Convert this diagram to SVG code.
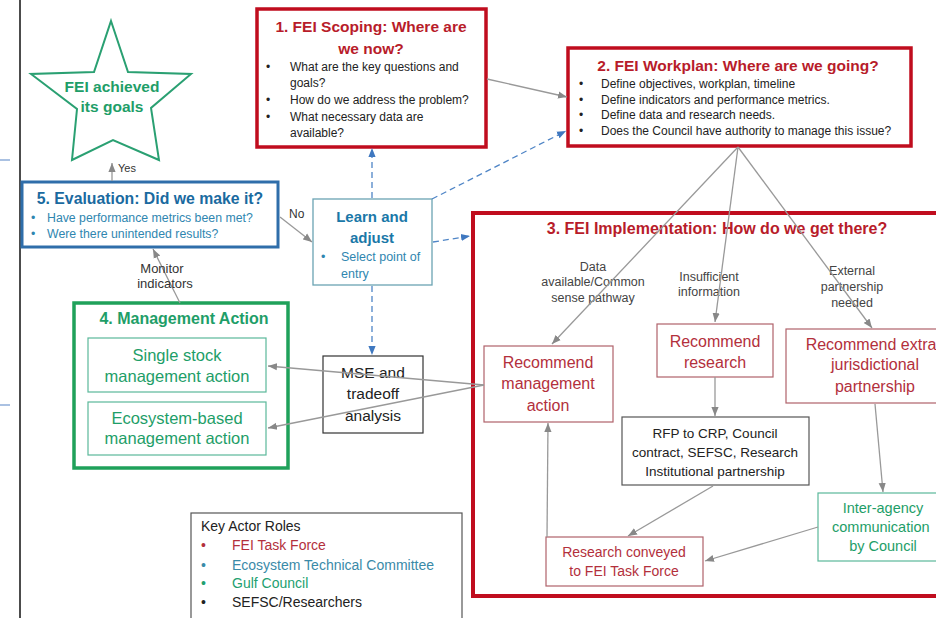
<svg xmlns="http://www.w3.org/2000/svg" width="936" height="618" viewBox="0 0 936 618">
<defs>
<marker id="ag" viewBox="0 0 10 10" refX="10" refY="5" markerWidth="9" markerHeight="9" markerUnits="userSpaceOnUse" orient="auto"><path d="M0,1 L10,5 L0,9 z" fill="#888"/></marker>
<marker id="ab" viewBox="0 0 10 10" refX="10" refY="5" markerWidth="9" markerHeight="9" markerUnits="userSpaceOnUse" orient="auto"><path d="M0,1 L10,5 L0,9 z" fill="#3f78c0"/></marker>
<style>
text{font-family:"Liberation Sans",Arial,sans-serif;}
.b{font-weight:bold;}
.m{text-anchor:middle;}
.redF{fill:none;stroke:#c00d1e;stroke-width:3.5;}
.redT{fill:#b81c2a;}
.recB{fill:#fff;stroke:#b0626a;stroke-width:1.2;}
.recT{fill:#b3303c;}
.blk{fill:#222;}
.lbl{fill:#444;font-size:12.5px;}
.blueT{fill:#1a6aa0;}
.blueS{fill:#2f86b0;}
.grnT{fill:#1e9e68;}
.grnB{fill:#fff;stroke:#5ab89a;stroke-width:1.2;}
.ga{fill:none;stroke:#999;stroke-width:1.3;marker-end:url(#ag);}
.ba{fill:none;stroke:#4f85c6;stroke-width:1.3;stroke-dasharray:6 4;marker-end:url(#ab);}
</style>
</defs>
<rect width="936" height="618" fill="#fff"/>
<g id="page-edge">
<line x1="20" y1="0" x2="20" y2="618" stroke="#111" stroke-width="1.5"/>
<line x1="0" y1="160" x2="10" y2="160" stroke="#8eacd8" stroke-width="1.5"/>
<line x1="0" y1="405" x2="10" y2="405" stroke="#8eacd8" stroke-width="1.5"/>
</g>
<g id="star">
<polygon points="111,21 128,72 191,74 151,108 159,160 113,140 72,160 77,109 31,74 94,72" fill="#fff" stroke="#2aa072" stroke-width="2"/>
<text x="112" y="92" class="b m grnT" font-size="15.5">FEI achieved</text>
<text x="112" y="112" class="b m grnT" font-size="15.5">its goals</text>
</g>
<g id="scoping">
<rect x="257" y="9" width="229" height="138" class="redF" fill="#fff"/>
<text x="371" y="32" class="b m redT" font-size="15.5">1. FEI Scoping: Where are</text>
<text x="371" y="54" class="b m redT" font-size="15.5">we now?</text>
<g class="blk" font-size="12">
<text x="266" y="71">•</text><text x="290" y="71">What are the key questions and</text>
<text x="290" y="87">goals?</text>
<text x="266" y="104">•</text><text x="290" y="104">How do we address the problem?</text>
<text x="266" y="121">•</text><text x="290" y="121">What necessary data are</text>
<text x="290" y="137">available?</text>
</g>
</g>
<g id="workplan">
<rect x="568" y="48" width="343" height="98" class="redF" fill="#fff"/>
<text x="738" y="71" class="b m redT" font-size="15.5">2. FEI Workplan: Where are we going?</text>
<g class="blk" font-size="12">
<text x="579" y="88">•</text><text x="601" y="88">Define objectives, workplan, timeline</text>
<text x="579" y="104">•</text><text x="601" y="104">Define indicators and performance metrics.</text>
<text x="579" y="119">•</text><text x="601" y="119">Define data and research needs.</text>
<text x="579" y="135">•</text><text x="601" y="135">Does the Council have authority to manage this issue?</text>
</g>
</g>
<g id="evaluation">
<rect x="22" y="182" width="256" height="65" fill="#fff" stroke="#2f6eaa" stroke-width="3"/>
<text x="150" y="204" class="b m blueT" font-size="15.8">5. Evaluation: Did we make it?</text>
<g class="blueS" font-size="12.3">
<text x="31" y="222">•</text><text x="47" y="222">Have performance metrics been met?</text>
<text x="31" y="238">•</text><text x="47" y="238">Were there unintended results?</text>
</g>
</g>
<g id="learn">
<rect x="313" y="199" width="119" height="86" fill="#fff" stroke="#6aa3b3" stroke-width="1.3"/>
<text x="372" y="222" class="b m" fill="#1a78a8" font-size="15">Learn and</text>
<text x="372" y="243" class="b m" fill="#1a78a8" font-size="15">adjust</text>
<text x="321" y="261" class="blueS" font-size="12.5">•</text>
<text x="341" y="261" class="blueS" font-size="12.5">Select point of</text>
<text x="341" y="278" class="blueS" font-size="12.5">entry</text>
</g>
<g id="management">
<rect x="74" y="303" width="214" height="165" fill="#fff" stroke="#1fa15a" stroke-width="3.5"/>
<text x="184" y="324" class="b m grnT" font-size="16">4. Management Action</text>
<g id="single-stock">
<rect x="88" y="338" width="178" height="54" class="grnB"/>
<text x="177" y="361" class="m grnT" font-size="16.5">Single stock</text>
<text x="177" y="382" class="m grnT" font-size="16.5">management action</text>
</g>
<g id="ecosystem">
<rect x="88" y="402" width="178" height="53" class="grnB"/>
<text x="177" y="424" class="m grnT" font-size="16.5">Ecosystem-based</text>
<text x="177" y="444" class="m grnT" font-size="16.5">management action</text>
</g>
</g>
<g id="mse">
<rect x="323" y="356" width="100" height="77" fill="#fff" stroke="#333" stroke-width="1.2"/>
<text x="373" y="378" class="m blk" font-size="15.5">MSE and</text>
<text x="373" y="399" class="m blk" font-size="15.5">tradeoff</text>
<text x="373" y="421" class="m blk" font-size="15.5">analysis</text>
</g>
<g id="implementation">
<rect x="473" y="213" width="490" height="383" fill="none" stroke="#c00d1e" stroke-width="4"/>
<text x="717" y="234" class="b m redT" font-size="16">3. FEI Implementation: How do we get there?</text>
<text x="593" y="271" class="m lbl">Data</text>
<text x="593" y="286" class="m lbl">available/Common</text>
<text x="593" y="302" class="m lbl">sense pathway</text>
<text x="709" y="281" class="m lbl">Insufficient</text>
<text x="709" y="296" class="m lbl">information</text>
<text x="852" y="275" class="m lbl">External</text>
<text x="852" y="291" class="m lbl">partnership</text>
<text x="852" y="307" class="m lbl">needed</text>
</g>
<g id="rec-management">
<rect x="484" y="346" width="129" height="76" class="recB"/>
<text x="548" y="368" class="m recT" font-size="16">Recommend</text>
<text x="548" y="389" class="m recT" font-size="16">management</text>
<text x="548" y="411" class="m recT" font-size="16">action</text>
</g>
<g id="rec-research">
<rect x="657" y="324" width="116" height="53" class="recB"/>
<text x="715" y="347" class="m recT" font-size="16">Recommend</text>
<text x="715" y="368" class="m recT" font-size="16">research</text>
</g>
<g id="rec-extra">
<rect x="786" y="329" width="180" height="74" class="recB"/>
<text x="871" y="350" class="m recT" font-size="16">Recommend extra</text>
<text x="875" y="370" class="m recT" font-size="16">jurisdictional</text>
<text x="875" y="392" class="m recT" font-size="16">partnership</text>
</g>
<g id="rfp">
<rect x="622" y="417" width="187" height="68" fill="#fff" stroke="#555" stroke-width="1.2"/>
<text x="715" y="438" class="m blk" font-size="13.5">RFP to CRP, Council</text>
<text x="715" y="457" class="m blk" font-size="13.5">contract, SEFSC, Research</text>
<text x="715" y="476" class="m blk" font-size="13.5">Institutional partnership</text>
</g>
<g id="inter-agency">
<rect x="818" y="493" width="140" height="68" class="grnB"/>
<text x="883" y="513" class="m grnT" font-size="14.5">Inter-agency</text>
<text x="832" y="532" class="grnT" font-size="14.5">communication</text>
<text x="883" y="551" class="m grnT" font-size="14.5">by Council</text>
</g>
<g id="research-conveyed">
<rect x="546" y="537" width="157" height="49" class="recB"/>
<text x="624" y="557" class="m recT" font-size="14">Research conveyed</text>
<text x="624" y="576" class="m recT" font-size="14">to FEI Task Force</text>
</g>
<g id="key-actors">
<rect x="191" y="513" width="271" height="120" fill="#fff" stroke="#555" stroke-width="1.2"/>
<text x="201" y="531" class="blk" font-size="14">Key Actor Roles</text>
<text x="201" y="550" fill="#b3303c" font-size="14">•</text><text x="232" y="550" fill="#b3303c" font-size="14">FEI Task Force</text>
<text x="201" y="570" fill="#3a8aa8" font-size="14">•</text><text x="232" y="570" fill="#3a8aa8" font-size="14">Ecosystem Technical Committee</text>
<text x="201" y="588" fill="#22a070" font-size="14">•</text><text x="232" y="588" fill="#22a070" font-size="14">Gulf Council</text>
<text x="201" y="607" class="blk" font-size="14">•</text><text x="232" y="607" class="blk" font-size="14">SEFSC/Researchers</text>
</g>
<g id="connectors">
<line x1="112" y1="181" x2="112" y2="163" class="ga"/>
<text x="118" y="172" fill="#333" font-size="11">Yes</text>
<line x1="280" y1="217" x2="312" y2="242" class="ga"/>
<text x="289" y="218" fill="#333" font-size="12">No</text>
<line x1="180" y1="303" x2="153" y2="249" class="ga"/>
<text x="162" y="273" class="m" fill="#333" font-size="13">Monitor</text>
<text x="165" y="288" class="m" fill="#333" font-size="13">indicators</text>
<line x1="487" y1="79" x2="567" y2="97" class="ga"/>
<line x1="738" y1="147" x2="552" y2="344" class="ga"/>
<line x1="738" y1="147" x2="715" y2="322" class="ga"/>
<line x1="738" y1="147" x2="872" y2="328" class="ga"/>
<line x1="715" y1="377" x2="715" y2="416" class="ga"/>
<line x1="875" y1="404" x2="883" y2="492" class="ga"/>
<line x1="713" y1="486" x2="628" y2="536" class="ga"/>
<line x1="818" y1="527" x2="705" y2="561" class="ga"/>
<line x1="547" y1="537" x2="548" y2="423" class="ga"/>
<line x1="484" y1="385" x2="268" y2="366" class="ga"/>
<line x1="484" y1="385" x2="268" y2="428" class="ga"/>
<line x1="372" y1="198" x2="372" y2="148" class="ba"/>
<line x1="432" y1="199" x2="566" y2="131" class="ba"/>
<line x1="433" y1="242" x2="470" y2="236" class="ba"/>
<line x1="372" y1="286" x2="372" y2="355" class="ba"/>
</g>
</svg>
